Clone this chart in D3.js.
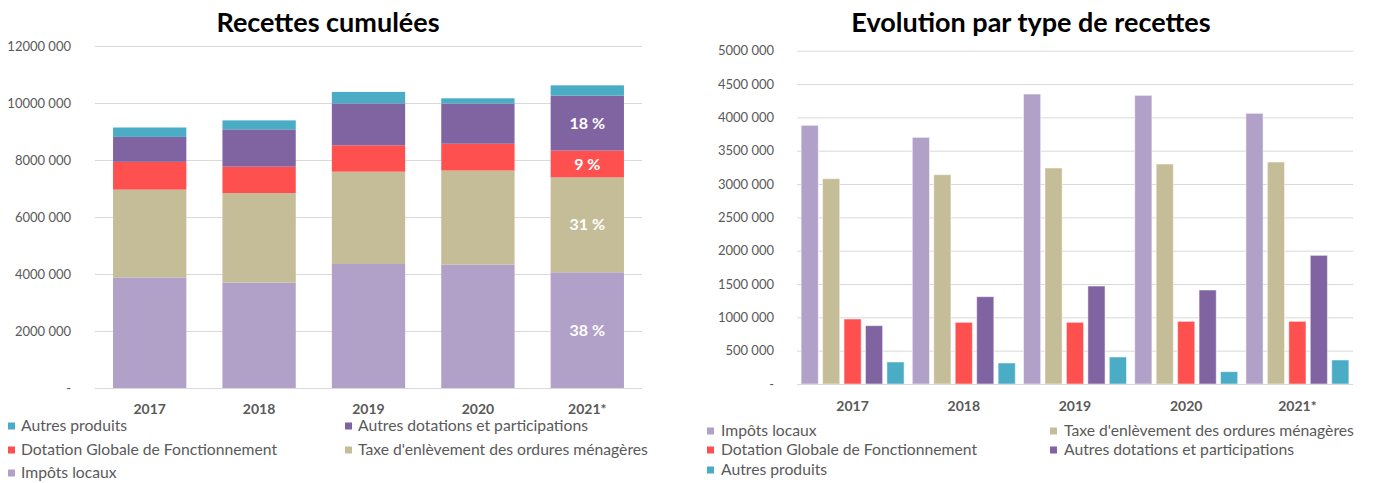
<!DOCTYPE html>
<html>
<head>
<meta charset="utf-8">
<script src="https://cdn.jsdelivr.net/npm/d3@7"></script>
<style>
body{margin:0;background:#fff;}
svg{display:block;font-family:Lato,"Open Sans",sans-serif;}
</style>
</head>
<body>
<svg id="chart" width="1376" height="483"></svg>
<script>
// values
var years = ["2017","2018","2019","2020","2021*"]
var impots = [3880000, 3700000, 4350000, 4330000, 4060000]
var taxe = [3080000, 3140000, 3240000, 3300000, 3330000]
var dgf = [975000, 925000, 925000, 940000, 940000]
var autresDot = [875000, 1310000, 1470000, 1410000, 1930000]
var autresProd = [330000, 315000, 405000, 185000, 360000]

var seriesNames = ["Impôts locaux","Taxe d'enlèvement des ordures ménagères","Dotation Globale de Fonctionnement","Autres dotations et participations","Autres produits"]
var seriesColors = ["#b1a0c7","#c4bd97","#ff5050","#8064a2","#4bacc6"]
var leftTicks = [0,2000000,4000000,6000000,8000000,10000000,12000000]
var rightTicks = [0,500000,1000000,1500000,2000000,2500000,3000000,3500000,4000000,4500000,5000000]

var allSeries = [impots,taxe,dgf,autresDot,autresProd]
var keys = ["impots","taxe","dgf","autresDot","autresProd"]
var rows = years.map(function(y,i){
    var r = {year:y}
    keys.forEach(function(k,j){ r[k] = allSeries[j][i] })
    return r
})

var svg = d3.select("#chart")
var txtCol = "#595959"
var fmt = function(d){ return d===0 ? "-" : (d/1000) + " 000" }

// ---------- left: stacked ----------
var xL = d3.scaleBand().domain(years).range([95,642]).paddingInner(0.33).paddingOuter(0.165)
var yL = d3.scaleLinear().domain([0,12000000]).range([388,46])

var gL = svg.append("g")
gL.append("g").call(d3.axisLeft(yL).tickValues(leftTicks).tickSize(-(642-95)).tickFormat(fmt))
    .attr("transform","translate(95,0)")
    .call(function(g){
        g.select(".domain").remove()
        g.selectAll(".tick line").attr("stroke","#d9d9d9")
        g.selectAll(".tick text").attr("x",-24).attr("fill",txtCol).style("font-size","13px").style("font-family","Lato")
    })

var stack = d3.stack().keys(keys)(rows)
gL.selectAll("g.layer").data(stack).enter().append("g")
    .attr("fill",function(d,i){ return seriesColors[i] })
    .selectAll("rect").data(function(d){ return d }).enter().append("rect")
    .attr("x",function(d){ return xL(d.data.year) })
    .attr("width",xL.bandwidth())
    .attr("y",function(d){ return yL(d[1]) })
    .attr("height",function(d){ return yL(d[0]) - yL(d[1]) })

// percentage labels on last bar
var last = rows[rows.length-1]
var total = d3.sum(keys,function(k){ return last[k] })
stack.slice(0,4).forEach(function(layer){
    var d = layer[layer.length-1]
    gL.append("text")
        .attr("x",xL(last.year)+xL.bandwidth()/2)
        .attr("y",(yL(d[0])+yL(d[1]))/2)
        .attr("dy","0.35em")
        .attr("text-anchor","middle")
        .attr("fill","#fff")
        .style("font-size","16px").style("font-weight","bold")
        .text(Math.round((d[1]-d[0])/total*100) + " %")
})

gL.append("line").attr("x1",95).attr("x2",642).attr("y1",388.5).attr("y2",388.5).attr("stroke","#d9d9d9")
gL.selectAll("text.xl").data(years).enter().append("text")
    .attr("x",function(d){ return xL(d)+xL.bandwidth()/2 })
    .attr("y",414).attr("text-anchor","middle").attr("fill",txtCol)
    .style("font-size","14px").style("font-weight","bold")
    .text(function(d){ return d })

gL.append("text").attr("x",328).attr("y",32).attr("text-anchor","middle")
    .style("font-size","27px").style("font-weight","bold").text("Recettes cumulées")

// left legend
var legL = [[4,8,426],[3,345,426],[2,8,450],[1,345,450],[0,8,473]]
legL.forEach(function(l){
    gL.append("rect").attr("x",l[1]).attr("y",l[2]-3.5).attr("width",7).attr("height",7).attr("fill",seriesColors[l[0]])
    gL.append("text").attr("x",l[1]+13).attr("y",l[2]).attr("dy","0.35em").attr("fill",txtCol)
        .style("font-size","15.7px").text(seriesNames[l[0]])
})

// ---------- right: grouped ----------
var xR = d3.scaleBand().domain(years).range([797,1353]).paddingInner(0.074).paddingOuter(0.037)
var xR1 = d3.scaleBand().domain(keys).range([0,xR.bandwidth()]).paddingInner(0.2).paddingOuter(0)
var yR = d3.scaleLinear().domain([0,5000000]).range([384,50.7])

var gR = svg.append("g")
gR.append("g").call(d3.axisLeft(yR).tickValues(rightTicks).tickSize(-(1353-797)).tickFormat(fmt))
    .attr("transform","translate(797,0)")
    .call(function(g){
        g.select(".domain").remove()
        g.selectAll(".tick line").attr("stroke","#d9d9d9")
        g.selectAll(".tick text").attr("x",-23).attr("fill",txtCol).style("font-size","13px").style("font-family","Lato")
    })

gR.selectAll("g.grp").data(rows).enter().append("g")
    .attr("transform",function(d){ return "translate(" + xR(d.year) + ",0)" })
    .selectAll("rect").data(function(d){ return keys.map(function(k,i){ return {k:k,i:i,v:d[k]} }) })
    .enter().append("rect")
    .attr("x",function(d){ return xR1(d.k) })
    .attr("width",xR1.bandwidth())
    .attr("y",function(d){ return yR(d.v) })
    .attr("height",function(d){ return yR(0) - yR(d.v) })
    .attr("fill",function(d){ return seriesColors[d.i] })
    .attr("stroke","#fff").attr("stroke-opacity",0.5).attr("stroke-width",1)

gR.append("line").attr("x1",797).attr("x2",1353).attr("y1",384.5).attr("y2",384.5).attr("stroke","#d9d9d9")
gR.selectAll("text.xr").data(years).enter().append("text")
    .attr("x",function(d){ return xR(d)+xR.bandwidth()/2 })
    .attr("y",411).attr("text-anchor","middle").attr("fill",txtCol)
    .style("font-size","14px").style("font-weight","bold")
    .text(function(d){ return d })

gR.append("text").attr("x",1031).attr("y",32).attr("text-anchor","middle")
    .style("font-size","27px").style("font-weight","bold").text("Evolution par type de recettes")

var legR = [[0,707,431],[1,1050,431],[2,707,450],[3,1050,450],[4,707,470]]
legR.forEach(function(l){
    gR.append("rect").attr("x",l[1]).attr("y",l[2]-3.5).attr("width",7).attr("height",7).attr("fill",seriesColors[l[0]])
    gR.append("text").attr("x",l[1]+14).attr("y",l[2]).attr("dy","0.35em").attr("fill",txtCol)
        .style("font-size","15.7px").text(seriesNames[l[0]])
})
</script>
</body>
</html>
